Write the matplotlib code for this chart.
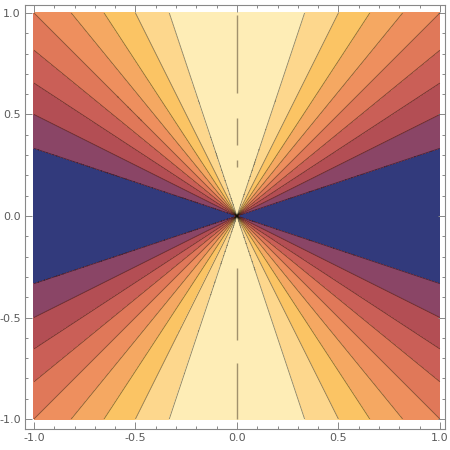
import numpy as np
import matplotlib
matplotlib.use("Agg")
import matplotlib.pyplot as plt

# contour levels of f = y^2 / (x^2 + y^2)
levels = [0.0, 0.1, 0.2, 0.3, 0.4, 0.5, 0.6, 0.7, 0.8, 0.9, 1.0]
line_levels = [0.1, 0.2, 0.3, 0.4, 0.5, 0.6, 0.7, 0.8, 0.9]
band_colors = ["#323a7c", "#8a4566", "#b34e54", "#ca5f57", "#e07859",
               "#ee8f5e", "#f5a862", "#fbc464", "#fdd78d", "#feedb6"]

# broken contour along x = 0 (value 1.0), segments as y ranges
center_segments = [(0.606, 0.99), (0.35, 0.483), (0.24, 0.276),
                   (-0.61, -0.256), (-1.0, -0.724)]

tick_major = [-1.0, -0.5, 0.0, 0.5, 1.0]
tick_labels = ["-1.0", "-0.5", "0.0", "0.5", "1.0"]

n = 600
xs = np.linspace(-1, 1, n)
ys = np.linspace(-1, 1, n)
X, Y = np.meshgrid(xs, ys)
Z = Y**2 / (X**2 + Y**2)

fig = plt.figure(figsize=(4.5, 4.5), dpi=100)
ax = fig.add_axes([25/450, 21/450, 420/450, 424/450])

ax.contourf(X, Y, Z, levels=levels, colors=band_colors)
ax.contour(X, Y, Z, levels=line_levels, colors="black", linewidths=0.6, alpha=0.45)
for y0, y1 in center_segments:
    ax.vlines(0.0, y0, y1, colors="#8a7a5a", linewidth=1.0, alpha=0.8)

ax.set_xlim(-1.044, 1.025)
ax.set_ylim(-1.049, 1.039)

ax.set_xticks(tick_major)
ax.set_xticklabels(tick_labels)
ax.set_yticks(tick_major)
ax.set_yticklabels(tick_labels)
minor = np.arange(-1.0, 1.01, 0.1)
ax.set_xticks(minor, minor=True)
ax.set_yticks(minor, minor=True)
ax.tick_params(which="both", direction="in", top=True, right=True,
               color="#888888", width=0.7, labelsize=8, labelcolor="#5a5a5a", pad=3)
ax.tick_params(which="major", length=5)
ax.tick_params(which="minor", length=2.5)
for s in ax.spines.values():
    s.set_color("#888888")
    s.set_linewidth(0.8)

fig.savefig("out.png", dpi=100)
